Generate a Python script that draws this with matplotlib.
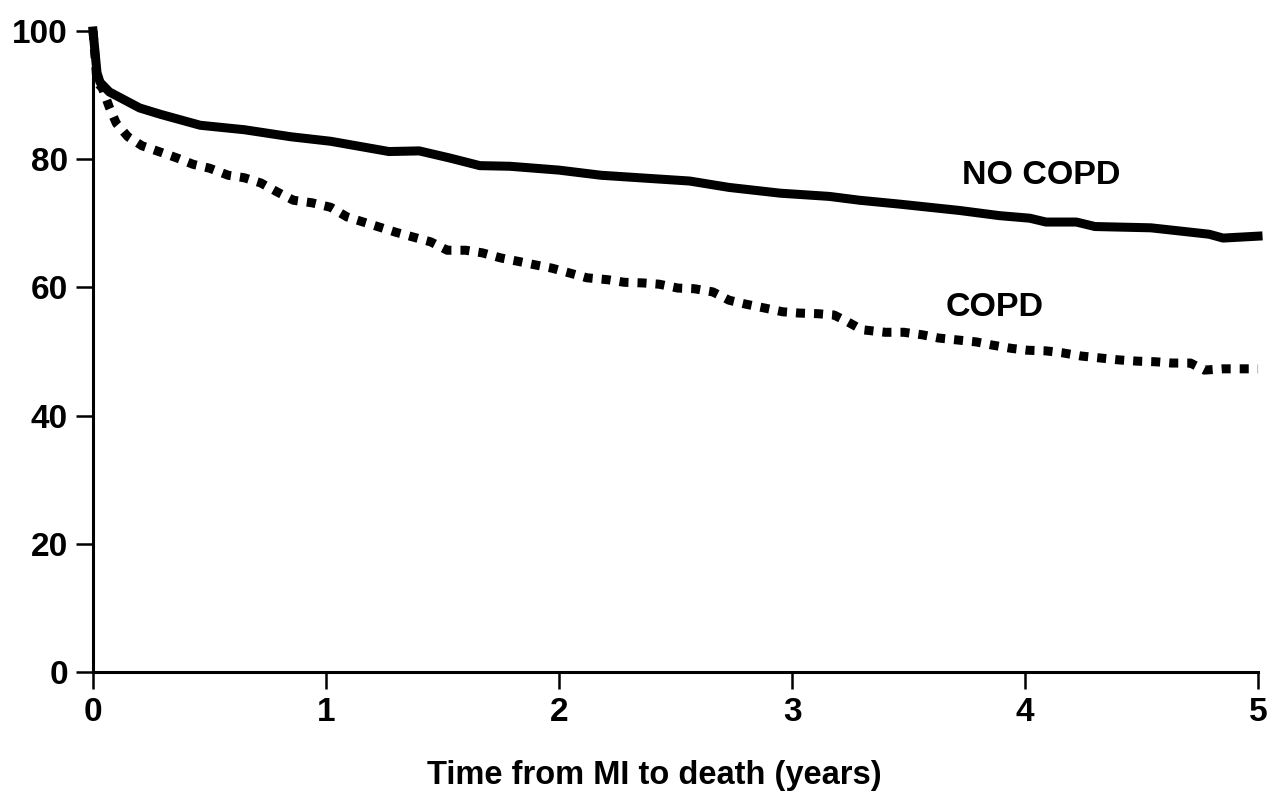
import numpy as np
import matplotlib.pyplot as plt

plt.rcParams['font.family'] = ['Liberation Sans', 'DejaVu Sans']
plt.rcParams['font.weight'] = 'bold'

# survival (%), time in years
no_copd_t = [0, 0.017, 0.03, 0.07, 0.2, 0.29, 0.46, 0.65, 0.85, 1.02, 1.27, 1.4,
             1.53, 1.66, 1.79, 2.0, 2.18, 2.39, 2.56, 2.73, 2.95, 3.16, 3.29,
             3.46, 3.72, 3.89, 4.02, 4.09, 4.22, 4.3, 4.54, 4.79, 4.85, 5.0]
no_copd_s = [100, 93.5, 92, 90.5, 88, 87, 85.3, 84.6, 83.5, 82.8, 81.2, 81.3,
             80.2, 79, 78.9, 78.3, 77.5, 77, 76.6, 75.6, 74.7, 74.2, 73.6,
             73.0, 72.0, 71.2, 70.8, 70.2, 70.2, 69.5, 69.3, 68.3, 67.7, 68.0]

copd_t = [0, 0.017, 0.04, 0.07, 0.1, 0.15, 0.21, 0.29, 0.36, 0.43, 0.5, 0.58,
          0.65, 0.72, 0.79, 0.86, 0.94, 1.02, 1.09, 1.16, 1.23, 1.3, 1.37,
          1.45, 1.52, 1.6, 1.67, 1.75, 1.82, 1.9, 1.97, 2.05, 2.12, 2.21,
          2.28, 2.36, 2.43, 2.51, 2.58, 2.66, 2.73, 2.8, 2.88, 2.96, 3.03,
          3.11, 3.18, 3.24, 3.3, 3.4, 3.48, 3.56, 3.63, 3.71, 3.79, 3.86,
          3.94, 4.01, 4.09, 4.16, 4.24, 4.32, 4.4, 4.48, 4.56, 4.63, 4.71,
          4.77, 4.85, 5.0]
copd_s = [100, 92, 91.1, 88.1, 85.6, 83.5, 82.1, 81.1, 80.2, 79.2, 78.6, 77.5,
          77.1, 76.3, 74.9, 73.6, 73.2, 72.5, 71, 70.2, 69.4, 68.6, 67.9,
          67.1, 65.8, 65.8, 65.4, 64.6, 64.1, 63.5, 63.0, 62.2, 61.5, 61.2,
          60.8, 60.7, 60.5, 59.9, 59.8, 59.3, 58.0, 57.4, 56.8, 56.2, 56.0,
          55.9, 55.7, 54.6, 53.4, 53.0, 53.0, 52.6, 52.1, 51.8, 51.5, 51.0,
          50.5, 50.2, 50.1, 49.8, 49.3, 49.0, 48.7, 48.5, 48.4, 48.2, 48.2,
          47.1, 47.3, 47.3]

fig = plt.figure(figsize=(12.71, 8.02), dpi=100)
ax = fig.add_axes([0.0732, 0.1621, 0.9166, 0.7992])

ax.plot(no_copd_t, no_copd_s, color='black', lw=6.5, solid_joinstyle='round', clip_on=False)
ax.plot(copd_t, copd_s, color='black', lw=6.5, linestyle=(0, (1, 1)), clip_on=False)

ax.text(3.73, 77.4, 'NO COPD', fontsize=24.5, fontweight='bold', va='center', ha='left')
ax.text(3.66, 56.9, 'COPD', fontsize=24.5, fontweight='bold', va='center', ha='left')

ax.set_xlim(0, 5)
ax.set_ylim(0, 100)
ax.set_xticks(range(0, 6))
ax.set_yticks(range(0, 101, 20))
ax.spines['top'].set_visible(False)
ax.spines['right'].set_visible(False)
ax.spines['left'].set_linewidth(2.2)
ax.spines['bottom'].set_linewidth(2.2)
ax.tick_params(axis='both', length=12, width=1.8, labelsize=24)
ax.tick_params(axis='x', pad=6)
ax.tick_params(axis='y', pad=6)
for lab in ax.get_xticklabels() + ax.get_yticklabels():
    lab.set_fontweight('bold')

ax.set_xlabel('Time from MI to death (years)', fontsize=23.5, fontweight='bold')
ax.xaxis.set_label_coords(0.4815, -0.138)

fig.savefig('out.png', dpi=100)
